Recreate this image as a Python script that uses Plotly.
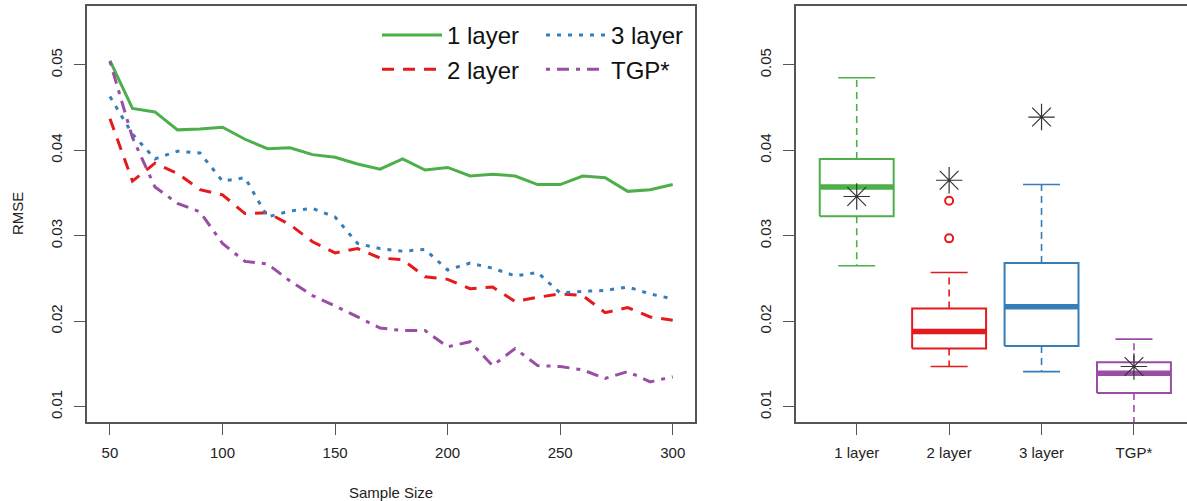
import plotly.graph_objects as go

# ---------------- data ----------------
sample_size = [50, 60, 70, 80, 90, 100, 110, 120, 130, 140, 150, 160, 170,
               180, 190, 200, 210, 220, 230, 240, 250, 260, 270, 280, 290, 300]
rmse_1layer = [0.0505, 0.0449, 0.0445, 0.0424, 0.0425, 0.0427, 0.0413, 0.0402, 0.0403,
               0.0395, 0.0392, 0.0384, 0.0378, 0.0390, 0.0377, 0.0380, 0.0370, 0.0372,
               0.0370, 0.0360, 0.0360, 0.0370, 0.0368, 0.0352, 0.0354, 0.0360]
rmse_2layer = [0.0437, 0.0364, 0.0385, 0.0373, 0.0354, 0.0348, 0.0326, 0.0327, 0.0313,
               0.0293, 0.0280, 0.0285, 0.0274, 0.0272, 0.0252, 0.0249, 0.0238, 0.0240,
               0.0223, 0.0228, 0.0232, 0.0230, 0.0210, 0.0216, 0.0205, 0.0201]
rmse_3layer = [0.0463, 0.0419, 0.0390, 0.0399, 0.0397, 0.0364, 0.0368, 0.0322, 0.0329,
               0.0332, 0.0322, 0.0291, 0.0285, 0.0282, 0.0284, 0.0260, 0.0268, 0.0262,
               0.0253, 0.0257, 0.0233, 0.0235, 0.0236, 0.0240, 0.0232, 0.0226]
rmse_tgp = [0.0504, 0.0415, 0.0357, 0.0338, 0.0328, 0.0291, 0.0270, 0.0267, 0.0247,
            0.0230, 0.0218, 0.0205, 0.0192, 0.0189, 0.0189, 0.0170, 0.0176, 0.0148,
            0.0168, 0.0148, 0.0147, 0.0143, 0.0133, 0.0141, 0.0129, 0.0135]

categories = ["1 layer", "2 layer", "3 layer", "TGP*"]
box_lower = [0.0265, 0.0147, 0.0141, 0.0073]
box_q1 = [0.0323, 0.0168, 0.0171, 0.0116]
box_median = [0.0357, 0.0188, 0.0217, 0.0139]
box_q3 = [0.0390, 0.0215, 0.0268, 0.0152]
box_upper = [0.0485, 0.0257, 0.0360, 0.0179]
star_values = [0.0346, 0.0365, 0.0439, 0.0147]
outliers_2layer = [0.0341, 0.0297]

y_ticks = [0.01, 0.02, 0.03, 0.04, 0.05]
y_ticktext = ["0.01", "0.02", "0.03", "0.04", "0.05"]
x_ticks = [50, 100, 150, 200, 250, 300]

# ---------------- style ----------------
colors = ["#4DAF4A", "#E41A1C", "#377EB8", "#984EA3"]
dashes = ["solid", "12px,9px", "4px,7px", "4px,7px,12px,7px"]
FONT = "Liberation Sans, Arial, sans-serif"
AXCOL = "#555555"

fig = go.Figure()

series = [rmse_1layer, rmse_2layer, rmse_3layer, rmse_tgp]
legend_ids = ["legend", "legend", "legend2", "legend2"]
for i, (name, vals) in enumerate(zip(categories, series)):
    fig.add_trace(go.Scatter(
        x=sample_size, y=vals, mode="lines", name=name,
        line=dict(color=colors[i], width=3, dash=dashes[i]),
        legend=legend_ids[i], xaxis="x", yaxis="y"))

# ---------------- boxplots ----------------
half_box = 0.4
half_cap = 0.2
for i, cat in enumerate(categories):
    p = i + 1
    c = colors[i]
    # whiskers (dashed)
    fig.add_trace(go.Scatter(
        x=[p, p, None, p, p],
        y=[box_q3[i], box_upper[i], None, box_q1[i], box_lower[i]],
        mode="lines", line=dict(color=c, width=1.6, dash="7px,5px"),
        showlegend=False, xaxis="x2", yaxis="y2", hoverinfo="skip"))
    # caps
    fig.add_trace(go.Scatter(
        x=[p - half_cap, p + half_cap, None, p - half_cap, p + half_cap],
        y=[box_upper[i], box_upper[i], None, box_lower[i], box_lower[i]],
        mode="lines", line=dict(color=c, width=1.6),
        showlegend=False, xaxis="x2", yaxis="y2", hoverinfo="skip"))
    # box
    fig.add_trace(go.Scatter(
        x=[p - half_box, p + half_box, p + half_box, p - half_box, p - half_box],
        y=[box_q1[i], box_q1[i], box_q3[i], box_q3[i], box_q1[i]],
        mode="lines", line=dict(color=c, width=2),
        fill="toself", fillcolor="white",
        showlegend=False, xaxis="x2", yaxis="y2", hoverinfo="skip"))
    # median
    fig.add_trace(go.Scatter(
        x=[p - half_box, p + half_box], y=[box_median[i], box_median[i]],
        mode="lines", line=dict(color=c, width=5.5),
        showlegend=False, xaxis="x2", yaxis="y2", hoverinfo="skip"))

# outliers for 2 layer
fig.add_trace(go.Scatter(
    x=[2] * len(outliers_2layer), y=outliers_2layer, mode="markers",
    marker=dict(symbol="circle-open", size=8, color=colors[1], line=dict(width=2)),
    showlegend=False, xaxis="x2", yaxis="y2"))

# stars
fig.add_trace(go.Scatter(
    x=[1, 2, 3, 4], y=star_values, mode="markers",
    marker=dict(symbol="asterisk-open", size=22, color="#333333",
                line=dict(width=1.2, color="#333333")),
    showlegend=False, xaxis="x2", yaxis="y2"))

W, H = 1187, 501
ML, MR, MT, MB = 87, 0, 6, 79
PW = W - ML - MR
PH = H - MT - MB


def px_x(px):
    return (px - ML) / PW


def px_y(py):
    return (H - MB - py) / PH


axis_common = dict(
    showline=True, linecolor=AXCOL, linewidth=1.5, ticks="outside", ticklen=11,
    tickwidth=1.2, tickcolor=AXCOL, showgrid=False, zeroline=False, automargin=False,
    tickfont=dict(family=FONT, size=15, color="#222222"))

legend_common = dict(xanchor="left", yanchor="top", bgcolor="rgba(0,0,0,0)",
                     borderwidth=0, itemwidth=60, tracegroupgap=0,
                     font=dict(family=FONT, size=24, color="#111111"))

fig.update_layout(
    width=W, height=H,
    margin=dict(l=ML, r=MR, t=MT, b=MB, autoexpand=False),
    paper_bgcolor="white", plot_bgcolor="white",
    font=dict(family=FONT, color="#222222"),
    xaxis=dict(domain=[0, px_x(695)], range=[39.8, 309.9], tickvals=x_ticks,
               mirror=True, anchor="y", ticklabelstandoff=5, **axis_common),
    yaxis=dict(domain=[0, 1], range=[0.0082, 0.0569], tickvals=y_ticks,
               ticktext=y_ticktext, tickangle=-90, mirror=True, anchor="x",
               ticklabelstandoff=6, **axis_common),
    xaxis2=dict(domain=[px_x(796), 1.0], range=[0.343, 4.574], tickvals=[1, 2, 3, 4],
                ticktext=categories, mirror=True, anchor="y2",
                ticklabelstandoff=5, **axis_common),
    yaxis2=dict(domain=[0, 1], range=[0.0082, 0.0569], tickvals=y_ticks,
                ticktext=y_ticktext, tickangle=-90, anchor="x2",
                ticklabelstandoff=6, **axis_common),
    legend=dict(x=px_x(377), y=px_y(13), **legend_common),
    legend2=dict(x=px_x(541), y=px_y(13), **legend_common),
    annotations=[
        dict(text="RMSE", x=px_x(17), y=px_y(214), xref="paper", yref="paper",
             textangle=-90, showarrow=False, font=dict(family=FONT, size=15, color="#222222"),
             xanchor="center", yanchor="middle"),
        dict(text="Sample Size", x=px_x(391), y=px_y(492), xref="paper", yref="paper",
             showarrow=False, font=dict(family=FONT, size=15, color="#222222"),
             xanchor="center", yanchor="middle"),
    ],
)

fig.write_html("out.html", config={"displayModeBar": False},
               post_script="document.body.style.margin='0';document.body.style.padding='0';")
